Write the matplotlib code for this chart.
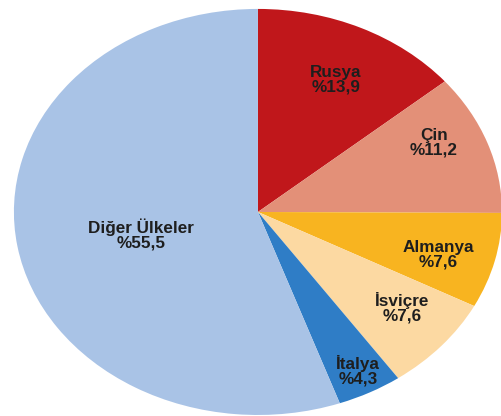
import matplotlib
matplotlib.use("Agg")
import matplotlib.pyplot as plt

countries = ["Rusya", "Çin", "Almanya", "İsviçre", "İtalya", "Diğer Ülkeler"]
shares = [13.9, 11.2, 7.6, 7.6, 4.3, 55.5]
share_labels = ["%13,9", "%11,2", "%7,6", "%7,6", "%4,3", "%55,5"]

colors = ["#C0171B", "#E39078", "#F8B420", "#FCD9A2", "#2F7DC6", "#A9C3E6"]
# label centres in data units (pie radius = 1)
label_pos = [(0.32, 0.65), (0.72, 0.34), (0.74, -0.21), (0.59, -0.47),
             (0.41, -0.78), (-0.48, -0.11)]

fig = plt.figure(figsize=(5.01, 4.16), dpi=100)
ax = fig.add_axes([0, 0, 1, 1])

ax.pie(shares, colors=colors, startangle=90, counterclock=False,
       wedgeprops=dict(linewidth=0))

for name, lab, (x, y) in zip(countries, share_labels, label_pos):
    ax.text(x, y, f"{name}\n{lab}", ha="center", va="center",
            fontsize=12.3, fontweight="bold", family="Liberation Sans",
            color="#1e1e1e", linespacing=0.95)

ax.set_aspect("auto")
ax.set_xlim(-1.057, 0.996)
ax.set_ylim(-1.005, 1.044)
ax.axis("off")

fig.savefig("out.png", dpi=100)
